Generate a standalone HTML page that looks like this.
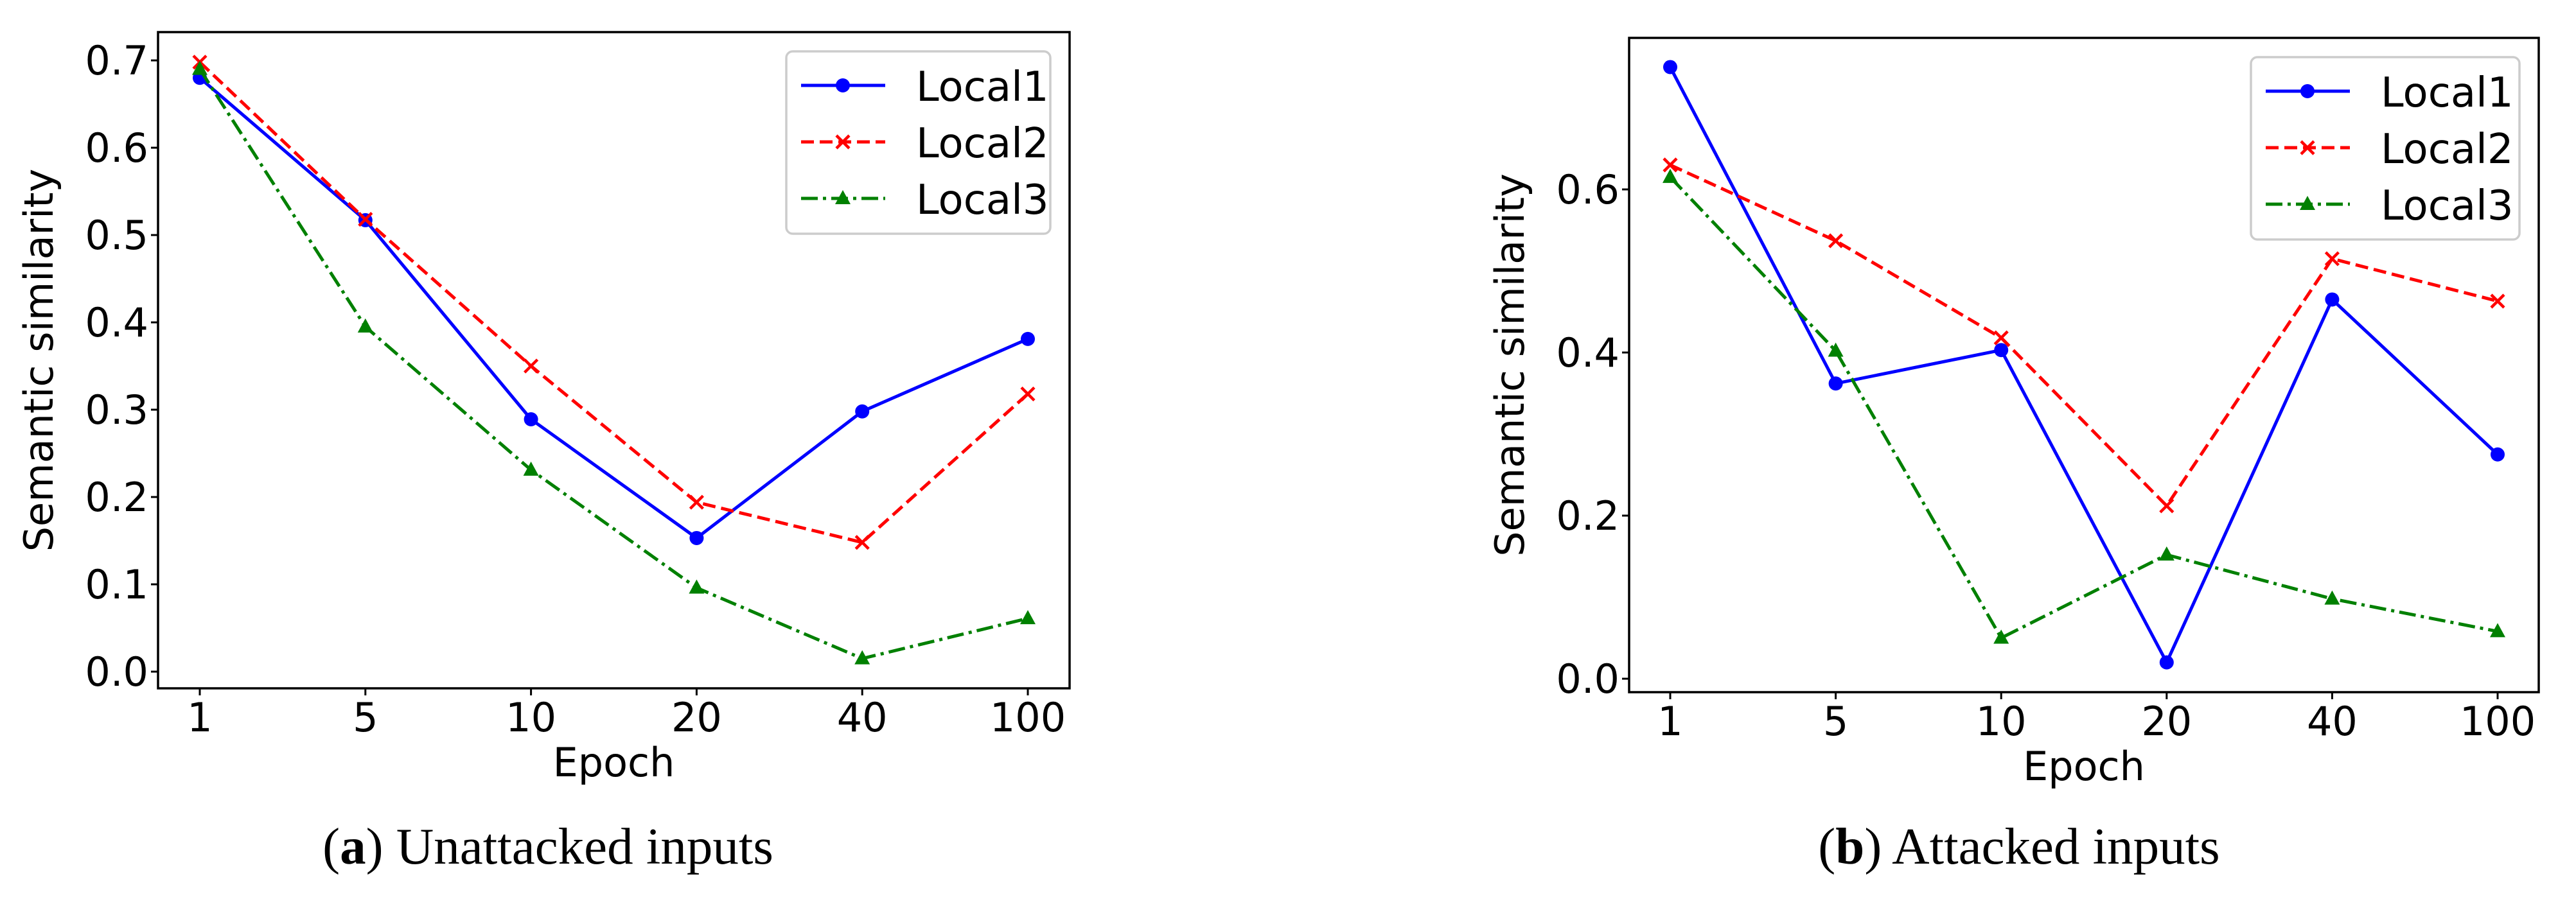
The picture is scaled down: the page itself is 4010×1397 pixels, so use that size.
<!DOCTYPE html>
<html><head><meta charset="utf-8"><style>
html,body{margin:0;padding:0;background:#fff;}
svg{display:block;}
text{font-family:"DejaVu Sans","Liberation Sans",sans-serif;}
.cap{font-family:"Liberation Serif",serif;}
</style></head><body>
<svg id="fig" width="4010" height="1397" viewBox="0 0 4010 1397" xmlns="http://www.w3.org/2000/svg"></svg>
<script>
const categories = ["1","5","10","20","40","100"];
const leftLocal1 = [0.680,0.517,0.289,0.153,0.298,0.381];
const leftLocal2 = [0.698,0.518,0.350,0.194,0.148,0.318];
const leftLocal3 = [0.690,0.395,0.231,0.096,0.015,0.061];
const rightLocal1 = [0.750,0.362,0.403,0.020,0.465,0.275];
const rightLocal2 = [0.630,0.537,0.418,0.212,0.515,0.463];
const rightLocal3 = [0.615,0.402,0.050,0.152,0.098,0.058];
const leftYTicks = [0.0,0.1,0.2,0.3,0.4,0.5,0.6,0.7];
const rightYTicks = [0.0,0.2,0.4,0.6];
const seriesNames = ["Local1","Local2","Local3"];

const NS="http://www.w3.org/2000/svg";
const svg=document.getElementById('fig');
function mk(tag,attrs,parent){const e=document.createElementNS(NS,tag);for(const k in attrs)e.setAttribute(k,attrs[k]);(parent||svg).appendChild(e);return e;}

const styles=[
 {color:"#0000ff",dash:"",marker:"circle"},
 {color:"#ff0000",dash:"20 9",marker:"x"},
 {color:"#008000",dash:"26 8 5 8",marker:"tri"}
];

function marker(g,type,x,y,color){
  let m;
  if(type==="circle"){m=mk('circle',{cx:x,cy:y,r:11,fill:color},g);}
  else if(type==="x"){m=mk('path',{d:`M${x-10},${y-10}L${x+10},${y+10}M${x-10},${y+10}L${x+10},${y-10}`,stroke:color,'stroke-width':4.5,fill:'none'},g);}
  else {m=mk('path',{d:`M${x},${y-13}L${x+12},${y+9}L${x-12},${y+9}Z`,fill:color},g);}
  return m;
}

function drawPanel(cfg){
  const g=mk('g',{});
  
  
  const {L,T,R,B,ymin,ymax,x0,x1}=cfg;
  const xs=i=>x0+(x1-x0)*i/(categories.length-1);
  const ys=v=>B-(v-ymin)/(ymax-ymin)*(B-T);
  cfg.series.forEach((vals,si)=>{
    const st=styles[si];
    const sg=mk('g',{},g);
    
    
    const pts=vals.map((v,i)=>xs(i)+','+ys(v)).join(' ');
    const pl=mk('polyline',{points:pts,fill:'none',stroke:st.color,'stroke-width':5,'stroke-dasharray':st.dash,'stroke-linejoin':'round'},sg);
    
    
    vals.forEach((v,i)=>{
      const m=marker(sg,st.marker,xs(i),ys(v),st.color);
      
      
    });
  });
  const fr=mk('rect',{x:L,y:T,width:R-L,height:B-T,fill:'none',stroke:'#000','stroke-width':3.5},g);
  
  
  categories.forEach((c,i)=>{
    mk('line',{x1:xs(i),x2:xs(i),y1:B,y2:B+11,stroke:'#000','stroke-width':3},g);
    const t=mk('text',{x:xs(i),y:B+67,'font-size':62,'text-anchor':'middle'},g);
    t.textContent=c;
    
    
  });
  cfg.yticks.forEach(v=>{
    mk('line',{x1:L-11,x2:L,y1:ys(v),y2:ys(v),stroke:'#000','stroke-width':3},g);
    const t=mk('text',{x:L-15,y:ys(v)+22,'font-size':62,'text-anchor':'end'},g);
    t.textContent=v.toFixed(1);
    
    
  });
  const xl=mk('text',{x:(L+R)/2,y:B+137,'font-size':62,'text-anchor':'middle'},g);
  xl.textContent='Epoch';
  
  
  const yl=mk('text',{x:0,y:0,'font-size':62,'text-anchor':'middle',transform:`translate(${cfg.ylabX},${(T+B)/2}) rotate(-90)`},g);
  yl.textContent='Semantic similarity';
  
  
  const lg=mk('g',{},g);
  
  
  const lx=cfg.legX, lr=R-30, lt=T+30, lb=T+314;
  mk('rect',{x:lx,y:lt,width:lr-lx,height:lb-lt,rx:10,fill:'#fff','fill-opacity':0.8,stroke:'#cccccc','stroke-width':3.5},lg);
  seriesNames.forEach((n,si)=>{
    const st=styles[si];
    const cy=lt+53+si*88;
    const e=mk('g',{},lg);
    
    
    mk('line',{x1:lx+23,x2:lx+154,y1:cy,y2:cy,stroke:st.color,'stroke-width':5,'stroke-dasharray':st.dash},e);
    marker(e,st.marker,lx+88,cy,st.color);
    const t=mk('text',{x:lx+202,y:cy+24,'font-size':64},e);
    t.textContent=n;
  });
  const cp=mk('text',{x:cfg.capX,y:1345,'font-size':81,'text-anchor':'middle',class:'cap'},g);
  const b1=mk('tspan',{},cp); b1.textContent='(';
  const b2=mk('tspan',{'font-weight':'bold'},cp); b2.textContent=cfg.capLetter;
  const b3=mk('tspan',{},cp); b3.textContent=') '+cfg.capText;
  
  
}

drawPanel({name:'panel-a-unattacked',L:246,T:50,R:1665,B:1072,ymin:-0.0191,ymax:0.7324,x0:311,x1:1600,
  yticks:leftYTicks,series:[leftLocal1,leftLocal2,leftLocal3],ylabX:82,legX:1224,capX:853,capLetter:'a',capText:'Unattacked inputs'});
drawPanel({name:'panel-b-attacked',L:2536,T:59,R:3952,B:1078,ymin:-0.0165,ymax:0.7858,x0:2600,x1:3888,
  yticks:rightYTicks,series:[rightLocal1,rightLocal2,rightLocal3],ylabX:2372,legX:3504,capX:3143,capLetter:'b',capText:'Attacked inputs'});
</script>
</body></html>
